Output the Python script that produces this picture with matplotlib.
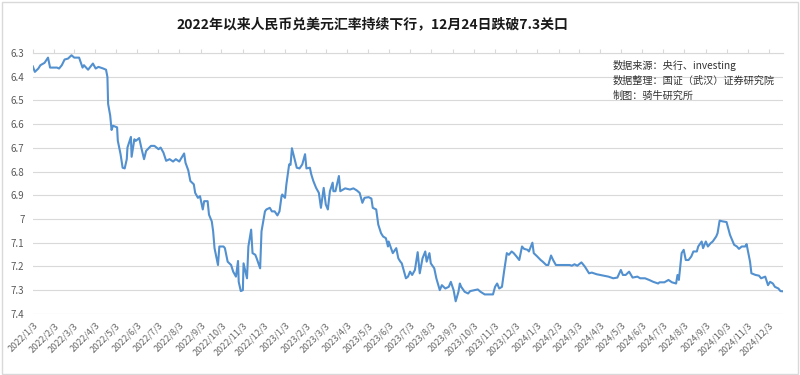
import matplotlib
matplotlib.use('Agg')
import matplotlib.pyplot as plt
import matplotlib.dates as mdates
from matplotlib.patches import Rectangle
import pandas as pd

plt.rcParams['font.family'] = ['Noto Sans CJK SC', 'DejaVu Sans']

title = '2022年以来人民币兑美元汇率持续下行，12月24日跌破7.3关口'
notes = ['数据来源：央行、investing', '数据整理：国证（武汉）证券研究院', '制图：骑牛研究所']

# 人民币兑美元
dates = [
    '2022-01-03', '2022-01-06', '2022-01-11', '2022-01-14', '2022-01-20', '2022-01-25', '2022-01-28',
    '2022-02-07', '2022-02-10', '2022-02-14', '2022-02-18', '2022-02-23', '2022-02-28',
    '2022-03-04', '2022-03-11', '2022-03-16', '2022-03-18', '2022-03-24', '2022-03-31',
    '2022-04-04', '2022-04-08', '2022-04-15', '2022-04-19', '2022-04-21', '2022-04-22', '2022-04-25',
    '2022-04-27', '2022-04-29', '2022-05-05', '2022-05-06', '2022-05-10', '2022-05-13', '2022-05-16',
    '2022-05-19', '2022-05-20', '2022-05-25', '2022-05-26', '2022-05-30', '2022-06-01', '2022-06-06',
    '2022-06-09', '2022-06-13', '2022-06-16', '2022-06-23', '2022-06-28', '2022-07-04', '2022-07-07',
    '2022-07-11', '2022-07-15', '2022-07-20', '2022-07-25', '2022-07-29', '2022-08-03', '2022-08-05',
    '2022-08-10', '2022-08-12', '2022-08-16', '2022-08-19', '2022-08-24', '2022-08-26', '2022-08-30',
    '2022-09-02', '2022-09-06', '2022-09-08', '2022-09-13', '2022-09-15', '2022-09-19', '2022-09-21',
    '2022-09-23', '2022-09-28', '2022-09-30', '2022-10-06', '2022-10-08', '2022-10-12', '2022-10-17',
    '2022-10-20', '2022-10-24', '2022-10-27', '2022-10-28', '2022-10-31', '2022-11-03', '2022-11-04',
    '2022-11-09', '2022-11-11', '2022-11-15', '2022-11-17', '2022-11-21', '2022-11-23', '2022-11-28',
    '2022-11-30', '2022-12-05', '2022-12-07', '2022-12-12', '2022-12-15', '2022-12-19', '2022-12-23',
    '2022-12-26', '2022-12-29', '2022-12-30',
    '2023-01-03', '2023-01-05', '2023-01-09', '2023-01-11', '2023-01-13', '2023-01-17', '2023-01-20',
    '2023-01-24', '2023-01-28', '2023-02-01', '2023-02-03', '2023-02-08', '2023-02-10', '2023-02-13',
    '2023-02-17', '2023-02-21', '2023-02-24', '2023-02-28', '2023-03-03', '2023-03-06', '2023-03-09',
    '2023-03-13', '2023-03-14', '2023-03-17', '2023-03-22', '2023-03-24', '2023-03-31', '2023-04-07',
    '2023-04-12', '2023-04-17', '2023-04-21', '2023-04-25', '2023-04-28', '2023-05-04', '2023-05-08',
    '2023-05-10', '2023-05-15', '2023-05-18', '2023-05-22', '2023-05-25', '2023-05-29', '2023-06-01',
    '2023-06-02', '2023-06-08', '2023-06-13', '2023-06-16', '2023-06-19', '2023-06-21', '2023-06-27',
    '2023-06-30', '2023-07-03', '2023-07-06', '2023-07-10', '2023-07-14', '2023-07-17', '2023-07-21',
    '2023-07-25', '2023-07-27', '2023-07-31', '2023-08-02', '2023-08-07', '2023-08-10', '2023-08-15',
    '2023-08-18', '2023-08-23', '2023-08-28', '2023-08-31', '2023-09-04', '2023-09-07', '2023-09-11',
    '2023-09-13', '2023-09-15', '2023-09-20', '2023-09-25', '2023-09-28', '2023-10-09', '2023-10-13',
    '2023-10-19', '2023-10-26', '2023-10-31', '2023-11-03', '2023-11-06', '2023-11-09', '2023-11-13',
    '2023-11-16', '2023-11-20', '2023-11-23', '2023-11-27', '2023-11-30', '2023-12-04', '2023-12-08',
    '2023-12-12', '2023-12-15', '2023-12-20', '2023-12-22', '2023-12-27', '2023-12-29',
    '2024-01-03', '2024-01-08', '2024-01-11', '2024-01-16', '2024-01-19', '2024-01-23', '2024-01-26',
    '2024-01-30', '2024-02-05', '2024-02-08', '2024-02-19', '2024-02-22', '2024-02-26', '2024-03-01',
    '2024-03-07', '2024-03-12', '2024-03-18', '2024-03-22', '2024-03-29', '2024-04-08', '2024-04-15',
    '2024-04-22', '2024-04-28', '2024-05-03', '2024-05-06', '2024-05-10', '2024-05-15', '2024-05-20',
    '2024-05-27', '2024-05-31', '2024-06-07', '2024-06-13', '2024-06-19', '2024-06-26', '2024-06-28',
    '2024-07-05', '2024-07-11', '2024-07-16', '2024-07-22', '2024-07-24', '2024-07-26', '2024-07-30',
    '2024-08-02', '2024-08-05', '2024-08-09', '2024-08-13', '2024-08-16', '2024-08-21', '2024-08-23',
    '2024-08-28', '2024-08-30', '2024-09-03', '2024-09-06', '2024-09-10', '2024-09-13', '2024-09-18',
    '2024-09-20', '2024-09-23', '2024-09-27', '2024-10-03', '2024-10-08', '2024-10-10', '2024-10-14',
    '2024-10-18', '2024-10-21', '2024-10-25', '2024-10-30', '2024-11-01', '2024-11-06', '2024-11-08',
    '2024-11-14', '2024-11-19', '2024-11-22', '2024-11-28', '2024-12-02', '2024-12-05', '2024-12-09',
    '2024-12-12', '2024-12-17', '2024-12-20', '2024-12-24',
]
rates = [
    6.357, 6.380, 6.366, 6.352, 6.342, 6.320, 6.362,
    6.362, 6.366, 6.352, 6.328, 6.324, 6.310,
    6.320, 6.320, 6.362, 6.352, 6.371, 6.345,
    6.366, 6.359, 6.366, 6.371, 6.402, 6.515, 6.564,
    6.625, 6.607, 6.614, 6.670, 6.727, 6.784, 6.787,
    6.748, 6.699, 6.654, 6.738, 6.664, 6.671, 6.659,
    6.699, 6.748, 6.713, 6.692, 6.692, 6.706, 6.699,
    6.720, 6.755, 6.748, 6.758, 6.748, 6.758, 6.748,
    6.724, 6.763, 6.795, 6.840, 6.854, 6.890, 6.911,
    6.904, 6.960, 6.925, 6.925, 6.982, 7.010, 7.052,
    7.123, 7.194, 7.116, 7.116, 7.123, 7.180, 7.194,
    7.222, 7.243, 7.177, 7.265, 7.304, 7.300, 7.187,
    7.250, 7.116, 7.045, 7.144, 7.151, 7.166, 7.208,
    7.052, 6.968, 6.960, 6.953, 6.968, 6.968, 6.985,
    6.968, 6.904, 6.897,
    6.911, 6.854, 6.770, 6.772, 6.702, 6.748, 6.784,
    6.787, 6.770, 6.727, 6.787, 6.784, 6.812, 6.840,
    6.869, 6.890, 6.953, 6.869, 6.939, 6.960, 6.883,
    6.847, 6.883, 6.883, 6.819, 6.883, 6.871, 6.876,
    6.871, 6.880, 6.890, 6.932, 6.911, 6.908, 6.914,
    6.953, 6.960, 7.024, 7.060, 7.074, 7.081, 7.116,
    7.095, 7.144, 7.123, 7.166, 7.180, 7.187, 7.250,
    7.243, 7.222, 7.236, 7.215, 7.140, 7.229, 7.166,
    7.137, 7.180, 7.144, 7.187, 7.208, 7.250, 7.300,
    7.279, 7.293, 7.286, 7.265, 7.300, 7.347, 7.307,
    7.272, 7.286, 7.307, 7.314, 7.304, 7.297, 7.307,
    7.318, 7.318, 7.318, 7.286, 7.272, 7.293, 7.286,
    7.222, 7.144, 7.151, 7.137, 7.144, 7.158, 7.173,
    7.116, 7.126, 7.130, 7.137, 7.100, 7.144,
    7.158, 7.173, 7.180, 7.194, 7.194, 7.154, 7.173,
    7.194, 7.194, 7.194, 7.194, 7.197, 7.191, 7.197,
    7.183, 7.201, 7.229, 7.226, 7.233, 7.239, 7.243,
    7.250, 7.247, 7.215, 7.236, 7.236, 7.222, 7.247,
    7.243, 7.250, 7.250, 7.257, 7.265, 7.272, 7.267,
    7.267, 7.257, 7.267, 7.272, 7.236, 7.257, 7.144,
    7.130, 7.173, 7.173, 7.158, 7.137, 7.137, 7.116,
    7.095, 7.123, 7.095, 7.116, 7.102, 7.095, 7.074,
    7.060, 7.007, 7.010, 7.013, 7.067, 7.081, 7.109,
    7.116, 7.126, 7.116, 7.116, 7.106, 7.180, 7.229,
    7.236, 7.239, 7.250, 7.243, 7.279, 7.265, 7.272,
    7.286, 7.293, 7.304, 7.305,
]
y_ticks = [6.3, 6.4, 6.5, 6.6, 6.7, 6.8, 6.9, 7.0, 7.1, 7.2, 7.3, 7.4]

df = pd.DataFrame({'date': pd.to_datetime(dates), 'rate': rates})

fig = plt.figure(figsize=(8, 3.75), dpi=100)
fig.patches.append(Rectangle((0.002, 0.003), 0.995, 0.993, transform=fig.transFigure,
                             fill=False, ec='#d9d9d9', lw=1))
ax = fig.add_axes([0.041, 0.163, 0.938, 0.696])

ax.plot(df['date'], df['rate'], color='#5290cf', lw=1.5)

ax.set_ylim(7.4, 6.3)
ax.set_yticks(y_ticks)
ax.set_yticklabels(['%g' % v for v in y_ticks])
ax.set_xlim(pd.Timestamp('2022-01-03'), pd.Timestamp('2024-12-24'))
ax.xaxis.set_major_locator(mdates.MonthLocator(bymonthday=3))
ax.xaxis.set_major_formatter(plt.FuncFormatter(
    lambda x, pos: '%d/%d/%d' % (mdates.num2date(x).year, mdates.num2date(x).month, mdates.num2date(x).day)))

ax.grid(axis='y', color='#d9d9d9', lw=0.8)
ax.set_axisbelow(True)
for s in ['left', 'right', 'bottom']:
    ax.spines[s].set_visible(False)
ax.spines['top'].set_color('#d9d9d9')

ax.tick_params(axis='y', length=0, labelsize=7, labelcolor='#595959', pad=6)
ax.tick_params(axis='x', top=True, bottom=False, labeltop=False, labelbottom=True,
               length=3, color='#d9d9d9', labelsize=6.5, labelcolor='#666666', pad=2)
for lab in ax.get_xticklabels():
    lab.set_rotation(45)
    lab.set_ha('right')
    lab.set_rotation_mode('anchor')

fig.text(0.465, 0.936, title, ha='center', va='center', fontsize=10, fontweight='bold', color='#1a1a1a')
for i, t in enumerate(notes):
    fig.text(0.766, 0.826 - i * 0.04, t, ha='left', va='center', fontsize=7.3, color='#333333')

fig.savefig('out.png', dpi=100)
